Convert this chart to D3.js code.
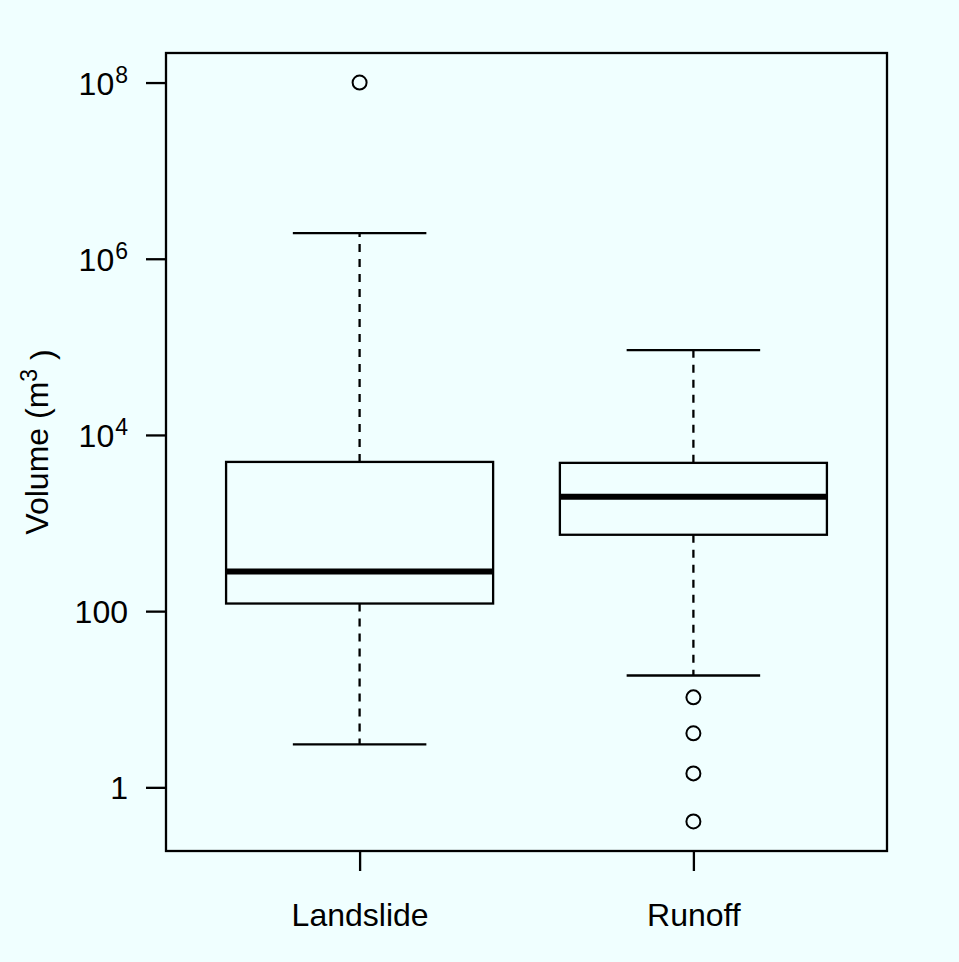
<!DOCTYPE html>
<html>
<head>
<meta charset="utf-8">
<script src="https://cdn.jsdelivr.net/npm/d3@7"></script>
<style>
  html, body { margin: 0; padding: 0; background: #F0FFFF; }
  svg { display: block; }
  text { font-family: "Liberation Sans", Arial, Helvetica, sans-serif; fill: #000; }
</style>
</head>
<body>
<script>
// Group names
const categories = ["Landslide", "Runoff"];
// Five-number summaries per group (lower whisker, Q1, median, Q3, upper whisker), m^3
const lowerWhisker = [3.07, 18.6];
const q1 = [122, 736];
const median = [281, 1983];
const q3 = [4940, 4820];
const upperWhisker = [1.95e6, 91900];
// Points beyond the whiskers
const outliersLandslide = [1e8];
const outliersRunoff = [10.5, 4.1, 1.44, 0.41];
// Y-axis tick values
const yTickValues = [1, 100, 1e4, 1e6, 1e8];

const W = 959, H = 962;
const plot = { left: 166, right: 887, top: 53, bottom: 851 };
const LW = 2.3;

const svg = d3.select("body").append("svg")
  .attr("width", W).attr("height", H);

svg.append("rect").attr("width", W).attr("height", H).attr("fill", "#F0FFFF");

const groups = categories.map((name, i) => ({
  name, pos: i + 1,
  lo: lowerWhisker[i], q1: q1[i], med: median[i], q3: q3[i], hi: upperWhisker[i],
  out: i === 0 ? outliersLandslide : outliersRunoff
}));

// Axis extents, widened by 4% on each side
const allVals = groups.flatMap(g => [g.lo, g.hi, ...g.out]);
const lg = d3.extent(allVals).map(Math.log10);
const pad = (lg[1] - lg[0]) * 0.04;
const y = d3.scaleLog()
  .domain([Math.pow(10, lg[0] - pad), Math.pow(10, lg[1] + pad)])
  .range([plot.bottom, plot.top]);

const xPad = categories.length * 0.04;
const x = d3.scaleLinear()
  .domain([0.5 - xPad, categories.length + 0.5 + xPad])
  .range([plot.left, plot.right]);

const boxW = x(0.8) - x(0);
const capW = boxW / 2;

const g = svg.append("g");

groups.forEach(d => {
  const cx = x(d.pos);
  // whiskers (dashed)
  [[d.q3, d.hi], [d.q1, d.lo]].forEach(([a, b]) => {
    g.append("line").attr("x1", cx).attr("x2", cx)
      .attr("y1", y(a)).attr("y2", y(b))
      .attr("stroke", "#000").attr("stroke-width", LW).attr("stroke-dasharray", "8,7");
  });
  // whisker caps
  [d.hi, d.lo].forEach(v => {
    g.append("line").attr("x1", cx - capW / 2).attr("x2", cx + capW / 2)
      .attr("y1", y(v)).attr("y2", y(v))
      .attr("stroke", "#000").attr("stroke-width", LW);
  });
  // box
  g.append("rect")
    .attr("x", cx - boxW / 2).attr("width", boxW)
    .attr("y", y(d.q3)).attr("height", y(d.q1) - y(d.q3))
    .attr("fill", "none").attr("stroke", "#000").attr("stroke-width", LW);
  // median
  g.append("line").attr("x1", cx - boxW / 2).attr("x2", cx + boxW / 2)
    .attr("y1", y(d.med)).attr("y2", y(d.med))
    .attr("stroke", "#000").attr("stroke-width", 6);
  // outliers
  g.selectAll(null).data(d.out).enter().append("circle")
    .attr("cx", cx).attr("cy", v => y(v)).attr("r", 7)
    .attr("fill", "none").attr("stroke", "#000").attr("stroke-width", 2);
});

// plot frame
svg.append("rect")
  .attr("x", plot.left).attr("y", plot.top)
  .attr("width", plot.right - plot.left).attr("height", plot.bottom - plot.top)
  .attr("fill", "none").attr("stroke", "#000").attr("stroke-width", LW);

// y axis
const yAxis = d3.axisLeft(y).tickValues(yTickValues).tickSize(20).tickFormat("");
const ya = svg.append("g").attr("transform", `translate(${plot.left},0)`).call(yAxis);
ya.select(".domain").remove();
ya.selectAll(".tick line").attr("stroke", "#000").attr("stroke-width", LW);
ya.selectAll(".tick").each(function(v) {
  const e = Math.round(Math.log10(v));
  const t = d3.select(this).append("text")
    .attr("x", -38).attr("dy", "0.36em")
    .attr("text-anchor", "end").style("font-size", "32px");
  if (e <= 2) {
    t.text(String(v));
  } else {
    t.append("tspan").text("10");
    t.append("tspan").attr("dx", 1).attr("dy", "-0.5em").style("font-size", "23px").text(String(e));
  }
});

// x axis
const xAxis = d3.axisBottom(x).tickValues(groups.map(d => d.pos)).tickSize(20).tickFormat("");
const xa = svg.append("g").attr("transform", `translate(0,${plot.bottom})`).call(xAxis);
xa.select(".domain").remove();
xa.selectAll(".tick line").attr("stroke", "#000").attr("stroke-width", LW);
xa.selectAll(".tick").append("text")
  .attr("y", 75).attr("text-anchor", "middle").style("font-size", "32px")
  .text(p => categories[p - 1]);

// y axis title
const yl = svg.append("text")
  .attr("transform", `translate(48,${(plot.top + plot.bottom) / 2 - 10}) rotate(-90)`)
  .attr("text-anchor", "middle").style("font-size", "32px");
yl.append("tspan").text("Volume (m");
yl.append("tspan").attr("dy", "-0.5em").style("font-size", "23px").text("3");
yl.append("tspan").attr("dy", "0.5em").text(" )");
</script>
</body>
</html>
